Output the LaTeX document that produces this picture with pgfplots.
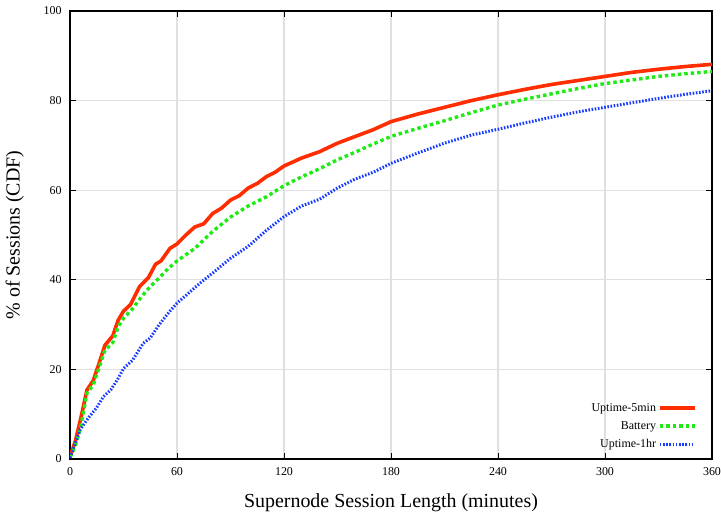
\documentclass[border=0pt]{standalone}
\usepackage{pgfplots}
\pgfplotsset{compat=1.18}
\usepackage{fontspec}
\setmainfont{Liberation Serif}
\definecolor{cred}{RGB}{255,45,0}
\definecolor{cgreen}{RGB}{30,235,20}
\definecolor{cblue}{RGB}{25,60,255}
\begin{document}
\begin{tikzpicture}
\begin{axis}[
  scale only axis, width=642bp, height=448bp,
  xmin=0, xmax=360, ymin=0, ymax=100,
  xtick={0,60,...,360}, ytick={0,20,...,100},
  grid=major, major grid style={line width=1.2bp, color=black!12},
  axis line style={line width=1.2bp},
  tick style={line width=0.8bp, black},
  major tick length=6bp,
  tick align=inside,
  /pgf/number format/assume math mode=true,
  ticklabel style={font=\fontsize{12}{14}\selectfont},
  yticklabel style={xshift=-5bp},
  xticklabel style={yshift=-5bp},
  xlabel={Supernode Session Length (minutes)},
  ylabel={\% of Sessions (CDF)},
  label style={font=\fontsize{20}{24}\selectfont},
  xlabel style={at={(axis description cs:0.5,-0.098)}, anchor=center},
  ylabel style={at={(axis description cs:-0.086,0.5)}, anchor=center},
  legend style={at={(axis description cs:0.981,0.013)}, anchor=south east, draw=none, fill=none,
    font=\fontsize{12}{14}\selectfont, row sep=4.5bp},
  legend cell align=right,
  legend plot pos=right,
  legend image code/.code={\draw[#1] (0bp,0bp) -- (35bp,0bp);},
]
\addplot[cred, line width=3.6bp, line join=round] coordinates {
(0,0.5) (3,4) (6,9) (9.5,15.4) (13,17.5) (16,21) (19.6,25.4) (24,27.5) (27,31) (30,33)
(34,34.5) (39,38.5) (44,40.5) (48,43.5) (51,44.2) (56,47) (60,48) (65,50) (70,51.8)
(75,52.5) (80,54.8) (85,56) (90,57.8) (95,58.8) (100,60.5) (105,61.5) (110,63) (115,64)
(120,65.4) (130,67.2) (140,68.6) (150,70.5) (160,72) (170,73.5) (180,75.3) (195,77)
(210,78.5) (225,80) (240,81.3) (255,82.5) (270,83.6) (285,84.5) (300,85.4) (315,86.3)
(330,87) (345,87.6) (360,88.1)};
\addlegendentry{Uptime-5min}
\addplot[cgreen, line width=3.4bp, dash pattern=on 3.5bp off 3bp] coordinates {
(0,0.3) (3,3) (6,7) (9.5,14.7) (13,16.5) (16,20) (19.6,24.3) (24,26) (27,29.5) (30,31.4)
(35,33.5) (40,36.2) (45,38.5) (50,40.4) (55,42.5) (60,44.2) (70,47) (80,50.8) (90,54)
(100,56.5) (110,58.5) (120,61) (130,63) (140,64.8) (150,66.8) (160,68.5) (170,70.3)
(180,72) (195,73.8) (210,75.5) (225,77.3) (240,79) (255,80.3) (270,81.5) (285,82.7)
(300,83.8) (315,84.6) (330,85.4) (345,86) (360,86.5)};
\addlegendentry{Battery}
\addplot[cblue, line width=3bp, dash pattern=on 1.6bp off 1.6bp] coordinates {
(0,0.3) (3,3.5) (5.6,6.5) (10,9) (15,11.5) (18.7,13.9) (23,15.5) (27,18) (30,20.2)
(35,22) (41,25.8) (45,27) (50,30) (56,33) (60,34.8) (65,36.5) (73,39.3) (80,41.5)
(90,44.8) (100,47.5) (110,51) (120,54.1) (130,56.5) (140,58) (150,60.5) (160,62.5)
(170,64) (180,66) (195,68.3) (210,70.5) (225,72.3) (240,73.6) (255,75) (270,76.3)
(285,77.5) (300,78.5) (315,79.5) (330,80.5) (345,81.4) (360,82.2)};
\addlegendentry{Uptime-1hr}
\end{axis}
\pgfresetboundingbox
\path ([xshift=-70bp,yshift=-58bp]current axis.south west) rectangle ([xshift=9bp,yshift=11bp]current axis.north east);
\end{tikzpicture}
\end{document}
